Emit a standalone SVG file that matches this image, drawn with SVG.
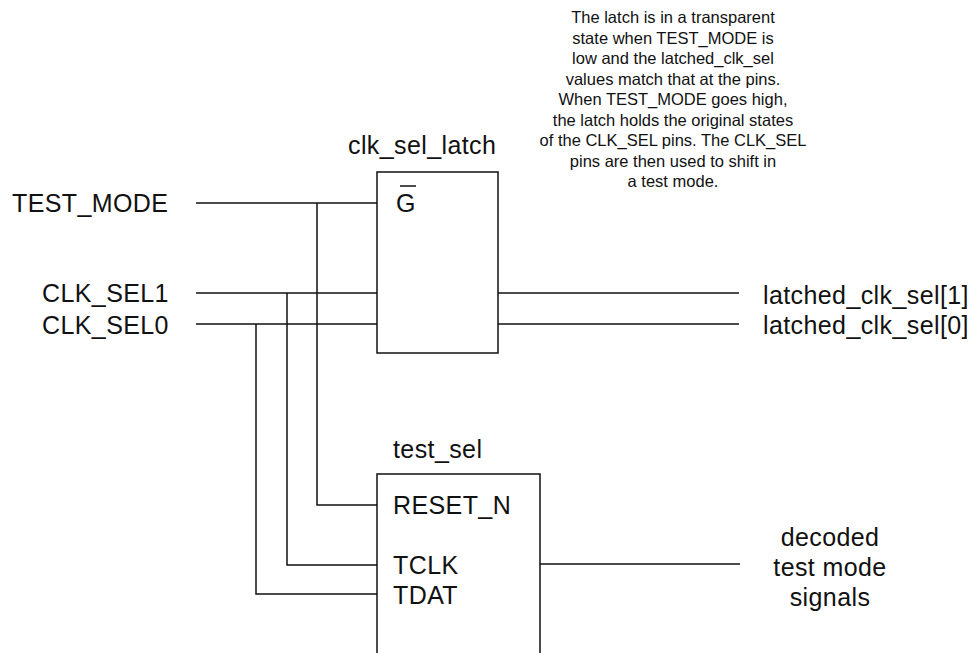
<svg xmlns="http://www.w3.org/2000/svg" width="970" height="653" viewBox="0 0 970 653">
<style>
.w{fill:none;stroke:#111;stroke-width:1.5}
.t{font-family:"Liberation Sans",Arial,sans-serif;font-size:25px;fill:#111;letter-spacing:0.4px}
.n{font-family:"Liberation Sans",Arial,sans-serif;font-size:16.5px;fill:#111;text-anchor:middle}
</style>
<rect width="970" height="653" fill="#fff"/>
<g id="connectors">
<path class="w" d="M196 203H377"/>
<path class="w" d="M196 293H377"/>
<path class="w" d="M196 324H377"/>
<path class="w" d="M317 203V505H377"/>
<path class="w" d="M287 293V565H377"/>
<path class="w" d="M256 324V594H377"/>
<path class="w" d="M498 293H739"/>
<path class="w" d="M498 324H739"/>
<path class="w" d="M540 564H740"/>
</g>
<g id="inputs">
<text class="t" x="12" y="212">TEST_MODE</text>
<text class="t" x="42" y="302">CLK_SEL1</text>
<text class="t" x="42" y="334">CLK_SEL0</text>
</g>
<g id="clk_sel_latch">
<rect class="w" x="377" y="172" width="121" height="181"/>
<text class="t" x="348" y="154">clk_sel_latch</text>
<text class="t" x="396" y="212">G</text>
<path class="w" d="M400 186H416"/>
</g>
<g id="test_sel">
<path class="w" d="M377 660V474H540V660"/>
<text class="t" x="393" y="458">test_sel</text>
<text class="t" x="393" y="514">RESET_N</text>
<text class="t" x="393" y="574">TCLK</text>
<text class="t" x="393" y="604">TDAT</text>
</g>
<g id="outputs">
<text class="t" x="763" y="304">latched_clk_sel[1]</text>
<text class="t" x="763" y="334">latched_clk_sel[0]</text>
<text class="t" x="830" y="546" text-anchor="middle">decoded</text>
<text class="t" x="830" y="576" text-anchor="middle">test mode</text>
<text class="t" x="830" y="606" text-anchor="middle">signals</text>
</g>
<g id="note">
<text class="n" x="673" y="23">The latch is in a transparent</text>
<text class="n" x="673" y="43.5">state when TEST_MODE is</text>
<text class="n" x="673" y="64">low and the latched_clk_sel</text>
<text class="n" x="673" y="84.5">values match that at the pins.</text>
<text class="n" x="673" y="105">When TEST_MODE goes high,</text>
<text class="n" x="673" y="125.5">the latch holds the original states</text>
<text class="n" x="673" y="146">of the CLK_SEL pins. The CLK_SEL</text>
<text class="n" x="673" y="166.5">pins are then used to shift in</text>
<text class="n" x="673" y="187">a test mode.</text>
</g>
</svg>
